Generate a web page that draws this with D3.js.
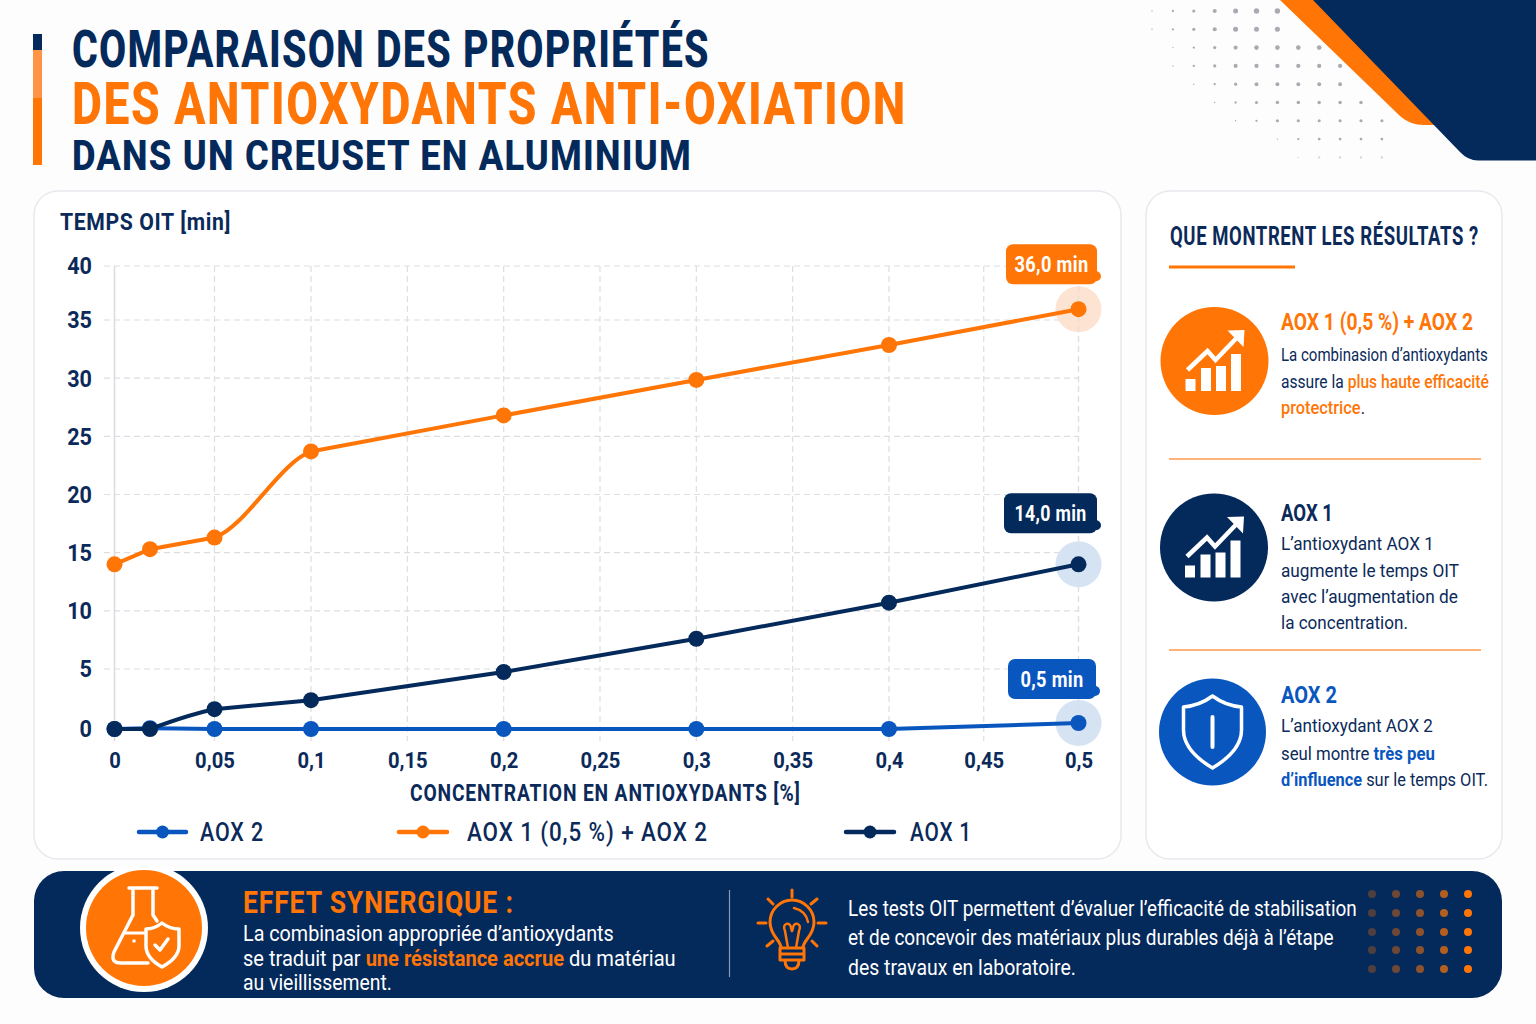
<!DOCTYPE html>
<html lang="fr">
<head>
<meta charset="utf-8">
<script src="https://cdn.jsdelivr.net/npm/d3@7/dist/d3.min.js"></script>
<style>
html,body{margin:0;padding:0;background:#fdfdfe}
svg{display:block;font-family:Roboto,"Noto Sans",sans-serif}
</style>
</head>
<body>
<svg id="c" width="1536" height="1024" viewBox="0 0 1536 1024"></svg>
<script>
// ---------- data ----------
const concentrations = [0, 0.02, 0.05, 0.1, 0.2, 0.3, 0.4, 0.5];
const aox2 =      [0, 0.06, 0, 0, 0, 0, 0, 0.5];
const aoxCombo =  [14, 15.3, 16.3, 23.7, 26.8, 29.85, 32.85, 36];
const aox1 =      [0, 0, 1.65, 2.4, 4.75, 7.6, 10.7, 14];
const xTicks = [0, 0.05, 0.1, 0.15, 0.2, 0.25, 0.3, 0.35, 0.4, 0.45, 0.5];
const yTicks = [0, 5, 10, 15, 20, 25, 30, 35, 40];
const seriesNames = ["AOX 2", "AOX 1 (0,5 %) + AOX 2", "AOX 1"];
const endLabels = ["0,5 min", "36,0 min", "14,0 min"];

const NAVY = "#04295b", ORANGE = "#ff7506", BLUE = "#0a56bf", INK = "#0b2a5a";
const svg = d3.select("#c");

function T(parent, x, y, parts, size, weight, fill, width, spacing) {
  const list = typeof parts === "string" ? [{t: parts}] : parts;
  const el = parent.append("text").attr("font-size", size).attr("font-weight", weight).attr("fill", fill);
  if (spacing) el.attr("letter-spacing", spacing);
  list.forEach(p => {
    const s = el.append("tspan").text(p.t);
    if (p.fill) s.attr("fill", p.fill);
    if (p.weight) s.attr("font-weight", p.weight);
  });
  const len = el.node().getComputedTextLength();
  const sx = width ? width / len : 1;
  el.attr("transform", `translate(${x},${y}) scale(${sx},1)`);
  return el;
}

// ---------- background decoration ----------
const dotRows = [[0,6],[0,6],[1,8],[1,9],[2,9],[3,10],[4,11],[6,11],[7,11]];
const deco = svg.append("g");
dotRows.forEach((r, j) => {
  d3.range(r[0], r[1] + 1).forEach(i => {
    const rad = Math.min(0.7 + 0.45 * (i - r[0]), 2.7 - 0.19 * j);
    deco.append("circle").attr("cx", 1152 + 20.9 * i).attr("cy", 11 + 18.3 * j)
      .attr("r", rad).attr("fill", "#a3a6ad").attr("opacity", j > 7 ? 0.45 : 0.95);
  });
});
deco.append("path").attr("fill", ORANGE)
  .attr("d", "M1280,0 L1400,116 Q1410,125 1424,125 L1440,125 L1350,0 Z");
deco.append("path").attr("fill", NAVY)
  .attr("d", "M1313,0 L1460,152 Q1468,160.5 1478,160.5 L1536,160.5 L1536,0 Z");

// ---------- title ----------
const head = svg.append("g");
head.append("rect").attr("x", 33).attr("y", 34).attr("width", 9).attr("height", 16).attr("fill", NAVY);
head.append("rect").attr("x", 33).attr("y", 50).attr("width", 9).attr("height", 48).attr("fill", "#ff9445");
head.append("rect").attr("x", 33).attr("y", 98).attr("width", 9).attr("height", 67).attr("fill", ORANGE);
T(head, 72, 67, "COMPARAISON DES PROPRIÉTÉS", 52, 800, NAVY, 638, 1.6);
T(head, 72, 124, "DES ANTIOXYDANTS ANTI-OXIATION", 59, 800, ORANGE, 835, 2);
T(head, 72, 169.5, "DANS UN CREUSET EN ALUMINIUM", 42, 800, NAVY, 620, 1.4);

// ---------- cards ----------
[[34, 1087], [1146, 356]].forEach(c => {
  svg.append("rect").attr("x", c[0]).attr("y", 191).attr("width", c[1]).attr("height", 668)
    .attr("rx", 24).attr("fill", "#fff").attr("stroke", "#e7e9ed").attr("stroke-width", 1.5);
});

// ---------- chart ----------
const x = d3.scaleLinear().domain([0, 0.02, 0.05, 0.1, 0.4, 0.5]).range([114.5, 150, 214.5, 311, 889, 1078.5]);
const y = d3.scaleLinear().domain([0, 5, 35, 40]).range([729, 669, 320, 266]);
const fr = v => String(v).replace(".", ",");
const chart = svg.append("g");
const DASH = "6 4", GRID = "#dcdee2";

chart.append("g").selectAll("line").data(yTicks.filter(d => d > 0)).join("line")
  .attr("x1", 104).attr("x2", x(0.5)).attr("y1", d => y(d)).attr("y2", d => y(d))
  .attr("stroke", GRID).attr("stroke-width", 1.2).attr("stroke-dasharray", DASH);
chart.append("g").selectAll("line").data(xTicks.filter(d => d > 0)).join("line")
  .attr("x1", d => x(d)).attr("x2", d => x(d)).attr("y1", y(40)).attr("y2", 741)
  .attr("stroke", GRID).attr("stroke-width", 1.2).attr("stroke-dasharray", DASH);
chart.append("line").attr("x1", x(0)).attr("x2", x(0)).attr("y1", y(40)).attr("y2", 741)
  .attr("stroke", "#d9dbe0").attr("stroke-width", 1.5);

const axL = chart.append("g").attr("transform", "translate(92,0)")
  .call(d3.axisLeft(y).tickValues(yTicks).tickSize(0).tickPadding(0));
axL.select(".domain").remove();
axL.selectAll("text").attr("font-family", "Roboto").attr("font-size", 24).attr("font-weight", 700)
  .attr("fill", INK).attr("x", 0).attr("dy", "0.33em").attr("transform", "scale(0.9,1)");

const axB = chart.append("g").attr("transform", "translate(0,768)")
  .call(d3.axisBottom(x).tickValues(xTicks).tickFormat(fr).tickSize(0).tickPadding(0));
axB.select(".domain").remove();
axB.selectAll("text").attr("font-family", "Roboto").attr("font-size", 22).attr("font-weight", 700)
  .attr("fill", INK).attr("y", 0).attr("dy", 0).attr("transform", "scale(0.92,1)");

T(chart, 60, 230, "TEMPS OIT [min]", 24, 700, INK, 171, 0.7);
T(chart, 410, 801, "CONCENTRATION EN ANTIOXYDANTS [%]", 23, 700, INK, 391, 1);

const lin = d3.curveLinear, mono = d3.curveMonotoneX;
// [from index, to index, curve, optional pair of indices the stroke is clipped to]
const series = [
  {v: aox2, c: BLUE, halo: "#d6e3f3", tagDy: -44, tagX: 1008, tagW: 88, tw: 63,
   parts: [[0, 2, mono], [2, 7, lin]]},
  {v: aoxCombo, c: ORANGE, halo: "#fde3d1", tagDy: -45, tagX: 1006, tagW: 91, tw: 74,
   parts: [[0, 2, lin], [1, 4, mono, [2, 3]], [3, 7, lin]]},
  {v: aox1, c: NAVY, halo: "#d6e3f3", tagDy: -51, tagX: 1004, tagW: 93, tw: 72,
   parts: [[0, 1, lin], [1, 3, mono, [1, 2]], [2, 7, lin]]}
];
const defs = svg.append("defs");
series.forEach(s => {
  const k = concentrations.length - 1;
  chart.append("circle").attr("cx", x(concentrations[k])).attr("cy", y(s.v[k])).attr("r", 23).attr("fill", s.halo);
});
chart.append("line").attr("x1", x(0.5)).attr("x2", x(0.5)).attr("y1", y(40)).attr("y2", 741)
  .attr("stroke", GRID).attr("stroke-width", 1.2).attr("stroke-dasharray", DASH).attr("opacity", 0.7);
series.forEach((s, i) => {
  const pts = concentrations.map((c, k) => [c, s.v[k]]);
  s.parts.forEach((p, n) => {
    const seg = d3.line().x(d => x(d[0])).y(d => y(d[1])).curve(p[2]);
    const path = chart.append("path").attr("d", seg(pts.slice(p[0], p[1] + 1))).attr("fill", "none")
      .attr("stroke", s.c).attr("stroke-width", 4);
    if (p[3]) {
      const id = `clip-${i}-${n}`;
      defs.append("clipPath").attr("id", id).append("rect")
        .attr("x", x(concentrations[p[3][0]])).attr("width", x(concentrations[p[3][1]]) - x(concentrations[p[3][0]]))
        .attr("y", y(40)).attr("height", y(0) - y(40) + 10);
      path.attr("clip-path", `url(#${id})`);
    }
  });
  chart.append("g").selectAll("circle").data(pts).join("circle")
    .attr("cx", d => x(d[0])).attr("cy", d => y(d[1])).attr("r", 8).attr("fill", s.c);
  const last = pts[pts.length - 1];
  const cy = y(last[1]) + s.tagDy;
  chart.append("rect").attr("x", s.tagX).attr("y", cy - 20).attr("width", s.tagW).attr("height", 40).attr("rx", 7).attr("fill", s.c);
  chart.append("circle").attr("cx", s.tagX + s.tagW - 1).attr("cy", cy + 12).attr("r", 5).attr("fill", s.c);
  T(chart, s.tagX + (s.tagW - s.tw) / 2, cy + 8, endLabels[i], 22, 700, "#fff", s.tw, 0.4);
});

// ---------- legend ----------
const legendAt = [[139, 186, 200, 64], [399, 447, 467, 241], [846, 894, 910, 62]];
seriesNames.forEach((n, i) => {
  const l = legendAt[i], c = series[i].c;
  chart.append("line").attr("x1", l[0]).attr("x2", l[1]).attr("y1", 832).attr("y2", 832)
    .attr("stroke", c).attr("stroke-width", 4.5).attr("stroke-linecap", "round");
  chart.append("circle").attr("cx", (l[0] + l[1]) / 2).attr("cy", 832).attr("r", 6.5).attr("fill", c);
  T(chart, l[2], 841, n, 25, 500, INK, l[3], 1);
});

// ---------- side panel ----------
const side = svg.append("g");
T(side, 1170, 245, "QUE MONTRENT LES RÉSULTATS ?", 25, 700, INK, 309, 0.8);
side.append("rect").attr("x", 1169).attr("y", 265.5).attr("width", 126).attr("height", 3).attr("fill", ORANGE);
[459, 650].forEach(v => side.append("line").attr("x1", 1169).attr("x2", 1481).attr("y1", v).attr("y2", v)
  .attr("stroke", "#ff9a4d").attr("stroke-width", 1.5));

function chartIcon(cx, cy, fill, r) {
  const g = side.append("g").attr("transform", `translate(${cx},${cy})`);
  g.append("circle").attr("r", r).attr("fill", fill);
  [[-29, 10, 12], [-13.5, 10, 23], [1.5, 10, 25], [16.5, 10, 37]].forEach(b => {
    g.append("rect").attr("x", b[0]).attr("y", 30 - b[2]).attr("width", b[1]).attr("height", b[2]).attr("fill", "#fff");
  });
  g.append("path").attr("d", "M-27,9 L-7,-10 L1,-1 L24,-25").attr("fill", "none").attr("stroke", "#fff").attr("stroke-width", 4.5);
  g.append("path").attr("d", "M13,-30.5 L30,-31 L29,-14 Z").attr("fill", "#fff");
}
chartIcon(1214.5, 361, ORANGE, 54);
chartIcon(1214, 547.5, NAVY, 54);

const sh = side.append("g").attr("transform", "translate(1212.5,732)");
sh.append("circle").attr("r", 53.5).attr("fill", BLUE);
sh.append("path").attr("d", "M0,-36 C8,-30 18,-26 29,-25 L29,-2 C29,14 15,27 0,36 C-15,27 -29,14 -29,-2 L-29,-25 C-18,-26 -8,-30 0,-36 Z")
  .attr("fill", "none").attr("stroke", "#fff").attr("stroke-width", 3.5).attr("stroke-linejoin", "round");
sh.append("line").attr("y1", -15).attr("y2", 15).attr("stroke", "#fff").attr("stroke-width", 4).attr("stroke-linecap", "round");

T(side, 1281, 330, "AOX 1 (0,5 %) + AOX 2", 24, 700, ORANGE, 192);
T(side, 1281, 361, "La combinasion d’antioxydants", 18.5, 400, INK, 207);
T(side, 1281, 388, [{t: "assure la "}, {t: "plus haute efficacité", fill: ORANGE, weight: 500}], 18.5, 400, INK, 208);
T(side, 1281, 414, [{t: "protectrice", fill: ORANGE, weight: 500}, {t: "."}], 18.5, 400, INK, 84);

T(side, 1281, 520.5, "AOX 1", 24, 700, INK, 52);
T(side, 1281, 550, "L’antioxydant AOX 1", 18.5, 400, INK, 153);
T(side, 1281, 577, "augmente le temps OIT", 18.5, 400, INK, 178);
T(side, 1281, 603, "avec l’augmentation de", 18.5, 400, INK, 177);
T(side, 1281, 629, "la concentration.", 18.5, 400, INK, 127);

T(side, 1281, 702.5, "AOX 2", 24, 700, BLUE, 56);
T(side, 1281, 732, "L’antioxydant AOX 2", 18.5, 400, INK, 152);
T(side, 1281, 760, [{t: "seul montre "}, {t: "très peu", fill: BLUE, weight: 700}], 18.5, 400, INK, 154);
T(side, 1281, 786, [{t: "d’influence", fill: BLUE, weight: 700}, {t: " sur le temps OIT."}], 18.5, 400, INK, 207);

// ---------- banner ----------
const ban = svg.append("g");
ban.append("rect").attr("x", 34).attr("y", 871).attr("width", 1468).attr("height", 127).attr("rx", 30).attr("fill", NAVY);
ban.append("circle").attr("cx", 144).attr("cy", 928).attr("r", 64).attr("fill", "#fff");
ban.append("circle").attr("cx", 144).attr("cy", 928).attr("r", 58).attr("fill", ORANGE);
const wp = (d, sw) => ban.append("path").attr("d", d).attr("fill", "none").attr("stroke", "#fff")
  .attr("stroke-width", sw || 3.5).attr("stroke-linecap", "round").attr("stroke-linejoin", "round");
wp("M129,888 L157,888 M133,888 L133,915 L114,952 Q110,963 121,963 L148,963 M153,888 L153,915 L157,921");
wp("M125,933 L145,933", 3);
ban.append("circle").attr("cx", 134).attr("cy", 941).attr("r", 1.8).attr("fill", "#fff");
ban.append("path").attr("d", "M162,923 C167,927 173,929 179,929 L179,946 C179,955 171,962 162,967 C153,962 146,955 146,946 L146,929 C151,929 157,927 162,923 Z")
  .attr("fill", ORANGE).attr("stroke", "#fff").attr("stroke-width", 3.5).attr("stroke-linejoin", "round");
wp("M155,945 L160,950 L168,939", 3.5);

T(ban, 243, 913, "EFFET SYNERGIQUE :", 31, 700, ORANGE, 271, 1);
T(ban, 243, 941, "La combinasion appropriée d’antioxydants", 22, 400, "#fff", 371);
T(ban, 243, 966, [{t: "se traduit par "}, {t: "une résistance accrue", fill: ORANGE, weight: 700}, {t: " du matériau"}], 22, 400, "#fff", 433);
T(ban, 243, 990, "au vieillissement.", 22, 400, "#fff", 149);

ban.append("line").attr("x1", 729.5).attr("x2", 729.5).attr("y1", 890).attr("y2", 977).attr("stroke", "#8c9ab0").attr("stroke-width", 1.2);

const op = (d, sw) => ban.append("path").attr("d", d).attr("fill", "none").attr("stroke", ORANGE)
  .attr("stroke-width", sw || 3).attr("stroke-linecap", "round").attr("stroke-linejoin", "round");
op("M792,890 L792,897 M758,923 L766,923 M818,923 L826,923 M768,899 L773,904 M817,899 L811,904 M767,946 L773,941 M817,946 L812,941");
op("M781,948 C781,940 770,936 770,922 C770,910 780,900 792,900 C804,900 814,910 814,922 C814,936 803,940 803,948");
op("M780,948 L804,948 L804,960 L780,960 Z M780,954 L804,954 M785,960 Q785,969 792,969 Q799,969 799,960");
op("M788,948 L785,931 C781,923 791,921 791,928 L792,931 L793,928 C793,921 803,923 799,931 L796,948", 2.5);
op("M794,908 Q806,911 808,922", 2.5);

T(ban, 848, 916, "Les tests OIT permettent d’évaluer l’efficacité de stabilisation", 22, 400, "#fff", 509);
T(ban, 848, 945, "et de concevoir des matériaux plus durables déjà à l’étape", 22, 400, "#fff", 486);
T(ban, 848, 975, "des travaux en laboratoire.", 22, 400, "#fff", 228);

[1372, 1396, 1420, 1444, 1468].forEach((cx, i) => {
  [894, 913, 932, 950, 969].forEach(cy => {
    ban.append("circle").attr("cx", cx).attr("cy", cy).attr("r", 4)
      .attr("fill", ORANGE).attr("opacity", [0.3, 0.42, 0.55, 0.7, 1][i]);
  });
});
</script>
</body>
</html>
